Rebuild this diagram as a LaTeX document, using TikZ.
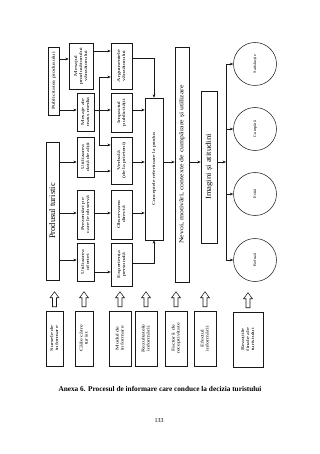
\documentclass[tikz,border=0pt]{standalone}
\usepackage{fontspec}
\setmainfont{Liberation Serif}
\usepackage{graphicx}
\usetikzlibrary{arrows.meta}
% rotated, horizontally stretched text: #1 stretch, #2 size, #3 leading, #4 lines
\newcommand\rtxt[4]{\rotatebox{90}{\scalebox{#1}[1]{\fontsize{#2}{#3}\selectfont\begin{tabular}{@{}c@{}}#4\end{tabular}}}}
\newcommand\smtxt[1]{\rtxt{1.45}{4.3}{5}{#1}}
\newcommand\bnode[6]{\node[bx, minimum width={(#3)-(#2)}, minimum height={(#5)-(#4)}] (#1) at ({((#2)+(#3))/2},{((#4)+(#5))/2}) {#6};}
\newcommand\hollowup[1]{\draw[hol, shift={(#1.north)}] (0,-19) -- ++(4.4,6) -- ++(-2.4,0) -- ++(0,9) -- ++(-4,0) -- ++(0,-9) -- ++(-2.4,0) -- cycle;}
\begin{document}
\begin{tikzpicture}[x=1pt,y=-1pt,
  bx/.style={draw=black!90, line width=0.55pt, inner sep=0pt, align=center},
  circ/.style={draw=black!85, line width=0.55pt, circle, minimum size=43pt, inner sep=0pt},
  arr/.style={-{Stealth[length=3.4pt,width=2.8pt]}, draw=black!90, line width=0.55pt},
  ln/.style={draw=black!90, line width=0.55pt},
  hol/.style={draw=black!90, line width=0.55pt, fill=white}]
\fill[white] (0,0) rectangle (320,454);
\useasboundingbox (0,0) rectangle (320,454);

% column A
\bnode{Pub}{48}{59.5}{47}{115}{\smtxt{Publicitatea produsului}}
\bnode{Prod}{46.5}{59.5}{142}{280}{\rtxt{1}{8.5}{10}{Produsul turistic}}
% column B
\bnode{Mesp}{69}{93}{43}{89}{\smtxt{Mesajul\\producătorului\\vânzătorului}}
\bnode{Mmm}{77}{94}{93}{131}{\smtxt{Mesaje ale\\mass media}}
\bnode{Utd}{77}{94}{137}{177}{\smtxt{Utilizarea\\dată de alții}}
\bnode{Prez}{77}{94}{190}{239}{\smtxt{Prezentări pe\\care le observă}}
\bnode{Uto}{77}{94}{243}{281}{\smtxt{Utilizarea\\ofertei}}
% column C
\bnode{Arg}{111}{132}{43}{89}{\smtxt{Argumentele\\vânzătorului}}
\bnode{Imp}{111}{132}{93}{132}{\smtxt{Impactul\\publicității}}
\bnode{Verb}{111}{132}{137}{184}{\smtxt{Verbală\\(de la prieteni)}}
\bnode{Obs}{111}{132}{190}{239}{\smtxt{Observarea\\directă}}
\bnode{Exp}{111}{132}{243}{286}{\smtxt{Experiența\\personală}}
% columns D, E, F
\bnode{Conc}{145}{163}{98}{240}{\rtxt{1.3}{4.4}{5}{Conceptele referitoare la produs}}
\bnode{Nev}{175}{189}{47}{282}{\rtxt{1.3}{6}{7}{Nevoi, motivări, contexte de cumpărare și utilizare}}
\bnode{Img}{201}{217}{91}{243}{\rtxt{1.15}{7.5}{9}{Imagini și atitudini}}
% circles
\node[circ] (Sat) at (255,64) {\rtxt{1.1}{4}{5}{Satisfacție}};
\node[circ] (Cum) at (255,129) {\rtxt{1.1}{4}{5}{Cumpără}};
\node[circ] (Evi) at (255,194) {\rtxt{1.1}{4}{5}{Evită}};
\node[circ] (Ref) at (255,260) {\rtxt{1.1}{4}{5}{Refuză}};
% bottom row
\bnode{Sur}{46}{63}{311}{366}{\smtxt{Sursele de\\informare}}
\bnode{Cai}{75}{93}{311}{366}{\smtxt{Căile către\\turist}}
\bnode{Mod}{109}{131}{311}{366}{\smtxt{Modul de\\informare}}
\bnode{Rez}{135}{157}{311}{366}{\smtxt{Rezultatele\\informării}}
\bnode{Fac}{165}{187}{311}{366}{\smtxt{Factorii de\\receptivitate}}
\bnode{Efe}{194}{216}{311}{366}{\smtxt{Efectul\\informării}}
\bnode{Rea}{233}{263}{312}{367}{\smtxt{Reacțiile\\finale ale\\turistului}}
\foreach \b in {Sur,Cai,Mod,Rez,Fac,Efe,Rea}{\hollowup{\b}}

% coordinates
\coordinate (j1) at (99,77);
\coordinate (j2) at (99,145);
\coordinate (vtop) at (226,64);
\coordinate (vmid) at (226,162);
\coordinate (vbot) at (226,260);

% connectors
\draw[arr] (Pub.east |- 0,59) -- (Mesp.west |- 0,59);
\draw[arr] (Pub.east |- 0,110) -- (Mmm.west |- 0,110);
\draw[arr] (Mesp.east |- 0,51) -- (Arg.west |- 0,51);
\draw[arr] (Mmm.east |- 0,110) -- (Imp.west |- 0,110);
\draw[ln] (j1) -- (j2);
\draw[arr] (j1) -- (Arg.west |- j1);
\draw[arr] (j2) -- (Verb.west |- j2);
\draw[arr] (Arg.east |- 0,58) -| (Conc.north);
\draw[arr] (Imp.east |- 0,110) -- (Conc.west |- 0,110);
\draw[arr] (Verb.east |- 0,162) -- (Conc.west |- 0,162);
\draw[arr] (Obs.east |- 0,213) -- (Conc.west |- 0,213);
\draw[arr] (Exp.east |- 0,263) -| (Conc.south);
\draw[arr] (Prod.east |- 0,162) -- (Utd.west |- 0,162);
\draw[arr] (Prod.east |- 0,213) -- (Prez.west |- 0,213);
\draw[arr] (Prod.east |- 0,260) -- (Uto.west |- 0,260);
\draw[arr] (Utd.east |- 0,171) -- (Verb.west |- 0,171);
\draw[arr] (Prez.east |- 0,213) -- (Obs.west |- 0,213);
\draw[arr] (Uto.east |- 0,272) -- (Exp.west |- 0,272);
\draw[arr] (Conc.east |- 0,162) -- (Nev.west |- 0,162);
\draw[arr] (Nev.east |- 0,162) -- (Img.west |- 0,162);
\draw[arr] (Img.east |- 0,162) -- (vmid);
\draw[ln] (vtop) -- (vbot);
\draw[arr] (vtop) -- (Sat.west);
\draw[arr] (Cum.west -| vtop) -- (Cum.west);
\draw[arr] (Evi.west -| vtop) -- (Evi.west);
\draw[arr] (vbot) -- (Ref.west);

% caption
\node[font=\fontsize{7.3}{8.5}\selectfont\bfseries] (cap) at (160,389) {Anexa 6. Procesul de informare care conduce la decizia turistului};
\node[font=\fontsize{6}{7}\selectfont] (pg) at (159,421) {133};
\end{tikzpicture}
\end{document}
